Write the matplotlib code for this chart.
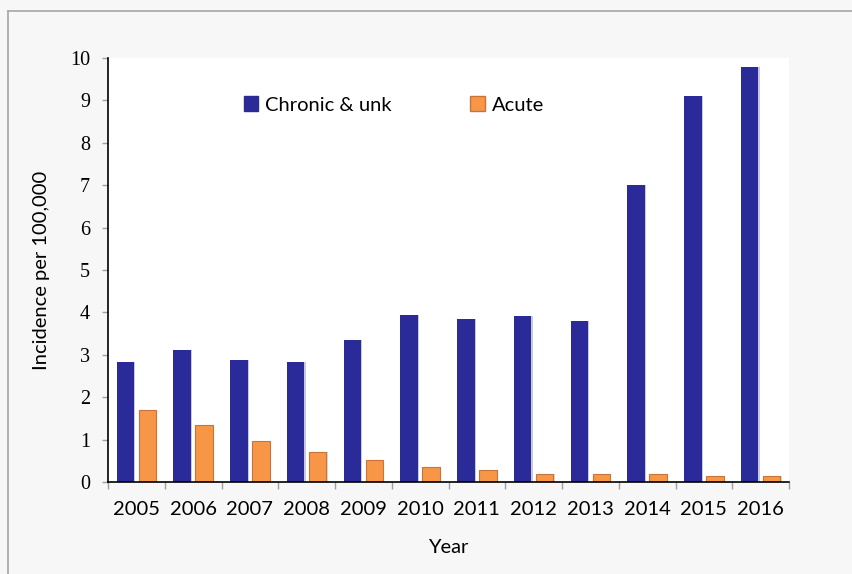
import matplotlib
matplotlib.use("Agg")
import matplotlib.pyplot as plt
from matplotlib.lines import Line2D
from matplotlib.patches import Patch
import numpy as np

years = ["2005", "2006", "2007", "2008", "2009", "2010", "2011", "2012", "2013", "2014", "2015", "2016"]
chronic = [2.83, 3.11, 2.88, 2.83, 3.35, 3.94, 3.84, 3.91, 3.80, 7.0, 9.1, 9.79]
acute = [1.70, 1.34, 0.97, 0.71, 0.52, 0.35, 0.28, 0.20, 0.20, 0.18, 0.14, 0.14]
yticks = list(range(0, 11))

sans = "Lato"
serif = "Liberation Serif"
fs = 14.5

fig = plt.figure(figsize=(8.52, 5.74), dpi=100, facecolor="#f7f7f7")
ax = fig.add_axes([108/852, 1-482/574, (789-108)/852, (482-58)/574])
ax.set_facecolor("white")

x = np.arange(len(years))
w = 0.305
off = 0.194
# subtle shadows
ax.bar(x - off + 0.025, chronic, w, color="#c9c9dc", zorder=1)
ax.bar(x + off + 0.025, acute, w, color="#d9d9d9", zorder=1)
ax.bar(x - off, chronic, w, color="#2a2a98", zorder=2, label="Chronic & unk")
ax.bar(x + off, acute, w, color="#f79646", edgecolor="#c8733a", linewidth=0.8, zorder=2, label="Acute")

ax.set_xlim(-0.5, len(years) - 0.5)
ax.set_ylim(0, 10)

for s in ["top", "right"]:
    ax.spines[s].set_visible(False)
for s in ["left", "bottom"]:
    ax.spines[s].set_color("black")
    ax.spines[s].set_linewidth(1.2)

ax.set_xticks(x)
ax.set_xticklabels(years, fontfamily=sans, fontsize=fs)
ax.tick_params(axis="x", which="major", length=0, pad=14)
ax.set_xticks(np.arange(-0.5, len(years)), minor=True)
ax.tick_params(axis="x", which="minor", length=5, color="#a0a0a0", width=1)

ax.set_yticks(yticks)
ax.set_yticklabels([str(t) for t in yticks], fontfamily=serif, fontsize=14.5)
ax.tick_params(axis="y", length=4, color="#a0a0a0", width=1, pad=9)

ax.set_ylabel("Incidence per 100,000", fontfamily=sans, fontsize=fs, labelpad=14)
ax.set_xlabel("Year", fontfamily=sans, fontsize=fs, labelpad=15)

handles = [Patch(facecolor="#2a2a98", edgecolor="#2a2a98"),
           Patch(facecolor="#f79646", edgecolor="#c8733a")]
leg = ax.legend(handles, ["Chronic & unk", "Acute"], ncol=2, frameon=False,
                loc="center left", bbox_to_anchor=((226-108)/681, (482-105)/424),
                prop={"family": sans, "size": fs}, handlelength=0.7, handleheight=0.7,
                handletextpad=0.35, columnspacing=3.9)

fig.add_artist(Line2D([8/852, 8/852], [0, 1-11/574], color="#a6a6a6", lw=1.2, transform=fig.transFigure))
fig.add_artist(Line2D([8/852, 1], [1-11/574, 1-11/574], color="#a6a6a6", lw=1.2, transform=fig.transFigure))

fig.savefig("out.png", dpi=100, facecolor=fig.get_facecolor())
